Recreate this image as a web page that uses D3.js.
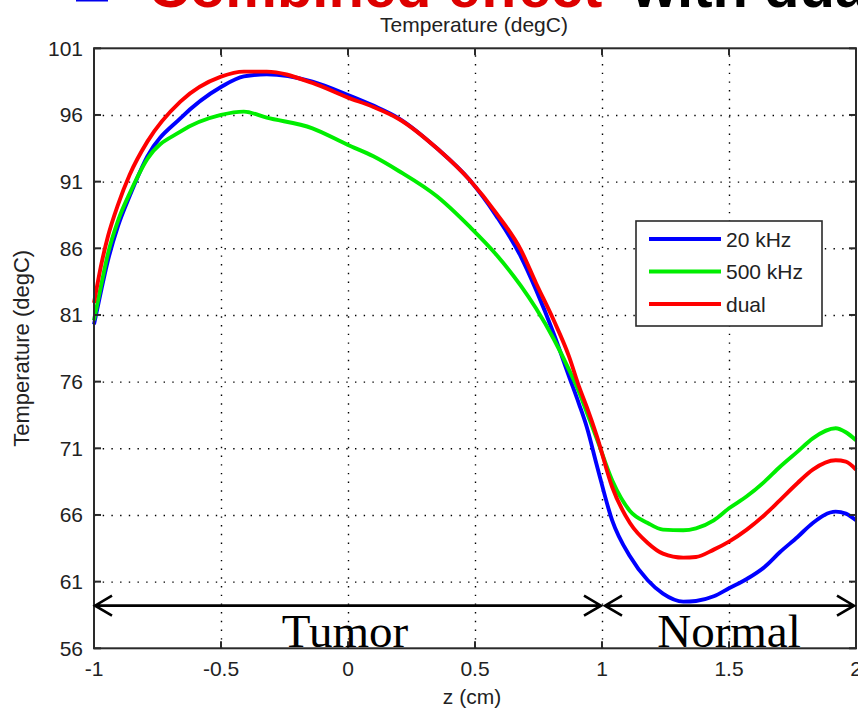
<!DOCTYPE html>
<html>
<head>
<meta charset="utf-8">
<script src="https://cdn.jsdelivr.net/npm/d3@7"></script>
<style>
    body { margin: 0; background: white; overflow: hidden; }
    svg { display: block; font-family: "Liberation Sans", Arial, sans-serif; }
    .grid line { stroke: black; stroke-width: 1.4px; stroke-dasharray: 1.4, 7.3; }
    .grid path { stroke: none; }
    .axisLine { stroke: #2a2a2a; stroke-width: 2px; fill: none; }
    .tickLabel { font-size: 21px; fill: #222; }
</style>
</head>
<body>
<div id="tempPlot"></div>
<script>
// Temperature along z for the three frequencies
const zValues = [-1, -0.97, -0.945, -0.905, -0.86, -0.79, -0.66, -0.5, -0.41, -0.32,
    -0.14, 0, 0.1, 0.2, 0.35, 0.48, 0.585, 0.68, 0.74, 0.81,
    0.87, 0.91, 0.94, 0.98, 1.04, 1.11, 1.18, 1.24, 1.32, 1.37,
    1.44, 1.5, 1.57, 1.64, 1.7, 1.77, 1.83, 1.92, 1.96, 2.0];

const temp20kHz = [80.3, 83.0, 85.1, 87.7, 89.9, 92.9, 95.75, 98.1, 98.9, 99.05,
    98.5, 97.5, 96.7, 95.75, 93.5, 91.1, 88.4, 85.4, 82.9, 79.6,
    76.4, 74.3, 72.6, 69.7, 65.6, 62.9, 61.1, 60.1, 59.5, 59.55,
    59.9, 60.5, 61.2, 62.1, 63.2, 64.35, 65.4, 66.25, 66.1, 65.6];

const temp500kHz = [80.6, 83.4, 85.6, 88.1, 90.1, 92.7, 94.75, 96.0, 96.25, 95.8,
    95.0, 93.75, 92.9, 91.8, 89.9, 87.6, 85.5, 83.2, 81.5, 79.2,
    76.9, 75.2, 73.7, 71.7, 68.6, 66.3, 65.4, 64.9, 64.85, 65.0,
    65.6, 66.5, 67.4, 68.5, 69.6, 70.75, 71.75, 72.5, 72.2, 71.6];

const tempDual = [81.9, 84.9, 86.9, 89.3, 91.5, 94.0, 97.0, 98.87, 99.25, 99.25,
    98.4, 97.3, 96.6, 95.7, 93.5, 91.1, 88.6, 85.9, 83.4, 80.6,
    77.9, 75.6, 74.1, 71.9, 68.1, 65.4, 63.9, 63.1, 62.8, 62.85,
    63.4, 64.0, 64.9, 66.0, 67.1, 68.4, 69.4, 70.1, 70.0, 69.4];

const seriesNames = ["20 kHz", "500 kHz", "dual"];
const seriesColors = ["#0000ff", "#00ee00", "#ff0000"];

const xTicks = [-1, -0.5, 0, 0.5, 1, 1.5, 2];
const yTicks = [56, 61, 66, 71, 76, 81, 86, 91, 96, 101];

// tissue regions marked under the curves
const regionNames = ["Tumor", "Normal"];
const regionStarts = [-1, 1];
const regionEnds = [1, 2];
const regionArrowT = 59.2;

class TemperaturePlot {
    constructor() {
        this.width = 858;
        this.height = 711;
        this.margin = {top: 48.3, right: 2, bottom: 62.7, left: 94};

        this.svg = d3.select("#tempPlot")
            .append("svg")
            .attr("width", this.width)
            .attr("height", this.height);

        let left = this.margin.left;
        let right = this.width - this.margin.right;
        let top = this.margin.top;
        let bottom = this.height - this.margin.bottom;

        this.x = d3.scaleLinear().domain([-1, 2]).range([left, right]);
        this.y = d3.scaleLinear().domain([56, 101]).range([bottom, top]);

        // slide heading, cut off by the top of the picture
        this.svg.append("rect")
            .attr("x", 76).attr("y", -12)
            .attr("width", 32).attr("height", 13.5)
            .attr("fill", "#0000ee");
        this.svg.append("text")
            .attr("x", 148).attr("y", 7)
            .style("font-size", "58px").style("font-weight", "bold")
            .attr("fill", "#dd0000")
            .text("Combined effect");
        this.svg.append("text")
            .attr("x", 632).attr("y", 7)
            .style("font-size", "58px").style("font-weight", "bold")
            .attr("fill", "black")
            .text("with dual frequency");

        // gridlines
        this.svg.append("g")
            .attr("class", "grid")
            .attr("transform", "translate(0," + bottom + ")")
            .call(d3.axisBottom(this.x)
                .tickValues(xTicks.slice(1, -1))
                .tickSize(-(bottom - top))
                .tickFormat(""));
        this.svg.append("g")
            .attr("class", "grid")
            .attr("transform", "translate(" + left + ",0)")
            .call(d3.axisLeft(this.y)
                .tickValues(yTicks.slice(1, -1))
                .tickSize(-(right - left))
                .tickFormat(""));

        // curves
        let line = d3.line()
            .x((d, i) => this.x(zValues[i]))
            .y(d => this.y(d))
            .curve(d3.curveMonotoneX);

        [temp20kHz, temp500kHz, tempDual].forEach((s, i) => {
            this.svg.append("path")
                .attr("d", line(s))
                .style("fill", "none")
                .style("stroke", seriesColors[i])
                .style("stroke-width", "3.9px")
                .style("stroke-linejoin", "round");
        });

        // box and inward ticks
        this.svg.append("rect")
            .attr("class", "axisLine")
            .attr("x", left).attr("y", top)
            .attr("width", right - left).attr("height", bottom - top);

        let tickLen = 7;
        xTicks.forEach(t => {
            let px = this.x(t);
            this.svg.append("line").attr("class", "axisLine")
                .attr("x1", px).attr("x2", px).attr("y1", bottom).attr("y2", bottom - tickLen);
            this.svg.append("line").attr("class", "axisLine")
                .attr("x1", px).attr("x2", px).attr("y1", top).attr("y2", top + tickLen);
            this.svg.append("text")
                .attr("class", "tickLabel")
                .attr("x", px).attr("y", bottom + 28)
                .attr("text-anchor", "middle")
                .text(t);
        });
        yTicks.forEach(t => {
            let py = this.y(t);
            this.svg.append("line").attr("class", "axisLine")
                .attr("x1", left).attr("x2", left + tickLen).attr("y1", py).attr("y2", py);
            this.svg.append("line").attr("class", "axisLine")
                .attr("x1", right).attr("x2", right - tickLen).attr("y1", py).attr("y2", py);
            this.svg.append("text")
                .attr("class", "tickLabel")
                .attr("x", left - 11).attr("y", py + 7.5)
                .attr("text-anchor", "end")
                .text(t);
        });

        // axis labels and title
        this.svg.append("text")
            .attr("x", 474).attr("y", 32)
            .attr("text-anchor", "middle")
            .style("font-size", "21px").attr("fill", "#222")
            .text("Temperature (degC)");
        this.svg.append("text")
            .attr("x", 472).attr("y", 704)
            .attr("text-anchor", "middle")
            .style("font-size", "21px").attr("fill", "#222")
            .text("z (cm)");
        this.svg.append("text")
            .attr("transform", "translate(29," + ((top + bottom) / 2) + ") rotate(-90)")
            .attr("text-anchor", "middle")
            .style("font-size", "22px").attr("fill", "#222")
            .text("Temperature (degC)");

        // region arrows
        let ay = this.y(regionArrowT);
        let headL = 17, headH = 10;
        regionNames.forEach((name, i) => {
            let x1 = this.x(regionStarts[i]) + (i === 0 ? 1 : 3);
            let x2 = this.x(regionEnds[i]) - (i === 0 ? 1 : 2);
            let p = d3.path();
            p.moveTo(x1, ay); p.lineTo(x2, ay);
            p.moveTo(x1 + headL, ay - headH); p.lineTo(x1, ay); p.lineTo(x1 + headL, ay + headH);
            p.moveTo(x2 - headL, ay - headH); p.lineTo(x2, ay); p.lineTo(x2 - headL, ay + headH);
            this.svg.append("path")
                .attr("d", p.toString())
                .style("fill", "none")
                .style("stroke", "black")
                .style("stroke-width", "2.6px");
            this.svg.append("text")
                .attr("x", this.x((regionStarts[i] + regionEnds[i]) / 2) - (i === 0 ? 3 : 0))
                .attr("y", bottom - 1)
                .attr("text-anchor", "middle")
                .style("font-family", "'Liberation Serif', 'Times New Roman', serif")
                .style("font-size", "47px")
                .text(name);
        });

        // legend
        let lg = this.svg.append("g").attr("transform", "translate(636,221)");
        lg.append("rect")
            .attr("width", 186).attr("height", 105)
            .attr("fill", "white")
            .attr("stroke", "#2a2a2a").attr("stroke-width", 1.6);
        seriesNames.forEach((name, i) => {
            let ly = 18 + i * 32.5;
            lg.append("line")
                .attr("x1", 13).attr("x2", 85).attr("y1", ly).attr("y2", ly)
                .style("stroke", seriesColors[i]).style("stroke-width", "3.9px");
            lg.append("text")
                .attr("x", 90).attr("y", ly + 7.5)
                .style("font-size", "21px").attr("fill", "#222")
                .text(name);
        });
    }
}

let plot = new TemperaturePlot();
</script>
</body>
</html>
